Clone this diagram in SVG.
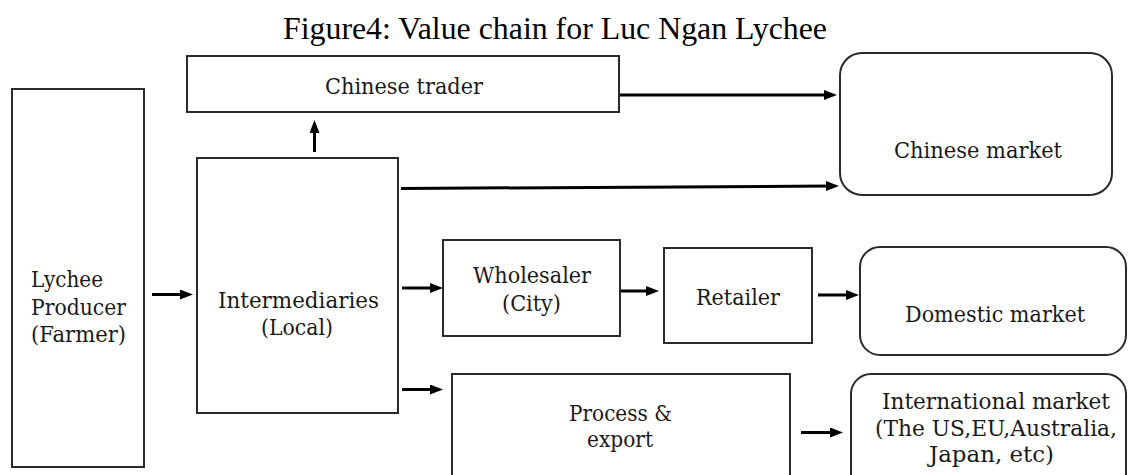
<svg xmlns="http://www.w3.org/2000/svg" width="1128" height="475" viewBox="0 0 1128 475">
<defs>
<style>
.box{fill:#fff;stroke:#2a2a2a;stroke-width:2}
.lbl{font-family:"DejaVu Serif","Liberation Serif",serif;font-size:22px;fill:#1a1a1a}
.title{font-family:"Liberation Serif","Times New Roman",serif;font-size:31.5px;fill:#000}
.conn{stroke:#000;stroke-width:3;fill:none;marker-end:url(#ah)}
</style>
<marker id="ah" markerUnits="userSpaceOnUse" markerWidth="14" markerHeight="12" refX="5" refY="5" orient="auto">
<path d="M0,0 L13,5 L0,10 z" fill="#000"/>
</marker>
</defs>
<rect width="1128" height="475" fill="#fff"/>
<text class="title" x="283" y="39" textLength="544" lengthAdjust="spacingAndGlyphs">Figure4: Value chain for Luc Ngan Lychee</text>

<g id="producer">
<rect class="box" x="12" y="89" width="132" height="378"/>
<text class="lbl" x="31" y="287" textLength="72" lengthAdjust="spacingAndGlyphs">Lychee</text>
<text class="lbl" x="31" y="315" textLength="95" lengthAdjust="spacingAndGlyphs">Producer</text>
<text class="lbl" x="31" y="342" textLength="95" lengthAdjust="spacingAndGlyphs">(Farmer)</text>
</g>
<g id="chinese-trader">
<rect class="box" x="187" y="56" width="432" height="56"/>
<text class="lbl" x="325" y="94" textLength="158" lengthAdjust="spacingAndGlyphs">Chinese trader</text>
</g>
<g id="intermediaries">
<rect class="box" x="197" y="158" width="201" height="255"/>
<text class="lbl" x="218" y="308" textLength="161" lengthAdjust="spacingAndGlyphs">Intermediaries</text>
<text class="lbl" x="261" y="335" textLength="72" lengthAdjust="spacingAndGlyphs">(Local)</text>
</g>
<g id="wholesaler">
<rect class="box" x="443" y="240" width="177" height="96"/>
<text class="lbl" x="473" y="283" textLength="118" lengthAdjust="spacingAndGlyphs">Wholesaler</text>
<text class="lbl" x="502" y="311" textLength="59" lengthAdjust="spacingAndGlyphs">(City)</text>
</g>
<g id="retailer">
<rect class="box" x="664" y="248" width="148" height="95"/>
<text class="lbl" x="696" y="305" textLength="84" lengthAdjust="spacingAndGlyphs">Retailer</text>
</g>
<g id="process-export">
<rect class="box" x="452" y="374" width="338" height="110"/>
<text class="lbl" x="569" y="421" textLength="103" lengthAdjust="spacingAndGlyphs">Process &amp;</text>
<text class="lbl" x="587" y="447" textLength="66" lengthAdjust="spacingAndGlyphs">export</text>
</g>
<g id="chinese-market">
<rect class="box" x="840" y="53" width="272" height="142" rx="22" ry="22"/>
<text class="lbl" x="894" y="158" textLength="168" lengthAdjust="spacingAndGlyphs">Chinese market</text>
</g>
<g id="domestic-market">
<rect class="box" x="860" y="247" width="266" height="108" rx="20" ry="20"/>
<text class="lbl" x="905" y="322" textLength="180" lengthAdjust="spacingAndGlyphs">Domestic market</text>
</g>
<g id="international-market">
<rect class="box" x="851" y="374" width="275" height="120" rx="20" ry="20"/>
<text class="lbl" x="882" y="409" textLength="228" lengthAdjust="spacingAndGlyphs">International market</text>
<text class="lbl" x="875" y="436" textLength="242" lengthAdjust="spacingAndGlyphs">(The US,EU,Australia,</text>
<text class="lbl" x="929" y="462" textLength="125" lengthAdjust="spacingAndGlyphs">Japan, etc)</text>
</g>

<g id="connectors">
<line class="conn" x1="152" y1="294.5" x2="185" y2="294.5"/>
<line class="conn" x1="314.5" y1="152" x2="314.5" y2="128"/>
<line class="conn" x1="620" y1="95" x2="829" y2="95"/>
<line class="conn" x1="401" y1="188.5" x2="831" y2="186"/>
<line class="conn" x1="402" y1="288" x2="435" y2="288"/>
<line class="conn" x1="402" y1="389.5" x2="435" y2="389.5"/>
<line class="conn" x1="621" y1="291" x2="651" y2="291"/>
<line class="conn" x1="818" y1="295" x2="851" y2="295"/>
<line class="conn" x1="801" y1="432.5" x2="835" y2="432.5"/>
</g>
</svg>
